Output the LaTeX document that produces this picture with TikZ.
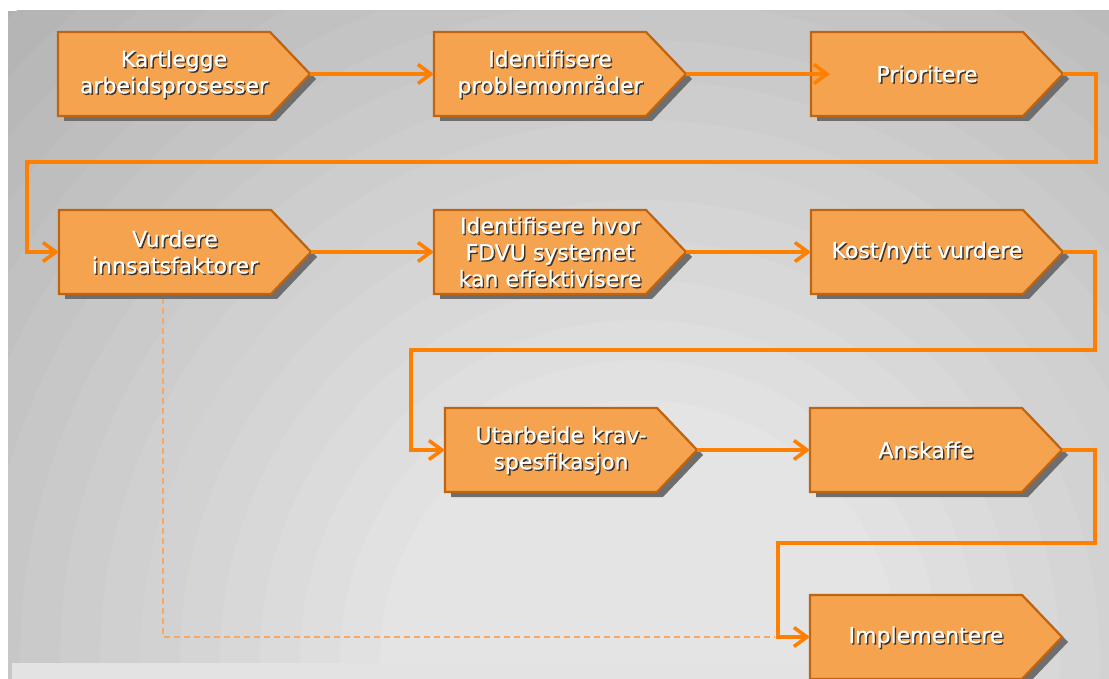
\documentclass[tikz,border=0pt]{standalone}
\usepackage{fontspec}
\setmainfont{DejaVu Sans}
\newfontfamily\steplabelfont[FakeBold=0.6]{DejaVu Sans}
\usetikzlibrary{arrows.meta}

\definecolor{boxfill}{RGB}{246,163,80}
\definecolor{boxline}{RGB}{192,100,16}
\definecolor{flow}{RGB}{255,128,0}
\definecolor{flowlight}{RGB}{246,168,100}
\definecolor{shadowgray}{RGB}{110,110,110}
\definecolor{txtshadow}{RGB}{60,50,40}

\tikzset{
  stepnode/.style={minimum width=252pt, minimum height=84pt, inner sep=0pt, outer sep=0pt},
  stepfill/.style={fill=boxfill, draw=boxline, line width=2.2pt, line join=miter},
  stepshadow/.style={fill=shadowgray},
  lbl/.style={text=white, align=center, font=\steplabelfont\fontsize{22}{26.5}\selectfont, inner sep=0pt},
  lblsh/.style={lbl, text=txtshadow},
  conn/.style={draw=flow, line width=3.6pt, -{Straight Barb[length=13pt,width=19pt]}},
  dashconn/.style={draw=flowlight, line width=2.2pt, dash pattern=on 6pt off 4pt},
}

% arrow-shaped process box with its drop shadow, built on a named node
\newcommand\stepshape[1]{%
  \fill[stepshadow, transform canvas={shift={(6pt,-5pt)}}]
    (#1.north west) -- ([xshift=-40pt]#1.north east) -- (#1.east)
    -- ([xshift=-40pt]#1.south east) -- (#1.south west) -- cycle;
  \filldraw[stepfill]
    (#1.north west) -- ([xshift=-40pt]#1.north east) -- (#1.east)
    -- ([xshift=-40pt]#1.south east) -- (#1.south west) -- cycle;
}

% label with a small dark offset copy underneath
\newcommand\steplabel[3]{%
  \node[lblsh, xshift=1.4pt, yshift=-1.4pt] (#2s) at ([xshift=-10pt]#1.center) {#3};
  \node[lbl] (#2) at ([xshift=-10pt]#1.center) {#3};
}

\begin{document}
\begin{tikzpicture}[x=1pt, y=-1pt]
  \useasboundingbox (0,0) rectangle (1109,679);
  \fill[white] (0,0) rectangle (1109,679);

  % banded radial background
  \begin{scope}
    \clip (8,11) rectangle (1109,679);
    \fill[white!70!black] (8,11) rectangle (1109,679);
    \foreach \k in {0,...,16} {
      \pgfmathsetmacro\r{900-\k*40}
      \pgfmathsetmacro\g{71+\k*1.15}
      \fill[white!\g!black] (640,660) circle[radius=\r pt];
    }
    \fill[white!89!black] (12,663) rectangle (810,679);
  \end{scope}

  % process boxes
  \node[stepnode] (b1) at (184,74) {};
  \node[stepnode] (b2) at (560,74) {};
  \node[stepnode] (b3) at (937,74) {};
  \node[stepnode] (b4) at (185,252) {};
  \node[stepnode] (b5) at (560,252) {};
  \node[stepnode] (b6) at (937,252) {};
  \node[stepnode] (b7) at (571,450) {};
  \node[stepnode] (b8) at (936,450) {};
  \node[stepnode] (b9) at (936,637) {};

  % dashed shortcut from the input assessment to implementation
  \draw[dashconn] ([xshift=-22pt,yshift=-4pt]b4.south) |- ([xshift=-35pt]b9.west);

  \stepshape{b1}\stepshape{b2}\stepshape{b3}
  \stepshape{b4}\stepshape{b5}\stepshape{b6}
  \stepshape{b7}\stepshape{b8}\stepshape{b9}

  % flow connectors
  \draw[conn] (b1.east) -- (b2.west);
  \draw[conn, shorten >=-19pt] (b2.east) -- (b3.west);
  \draw[conn] (b3.east) -- ++(33,0) -- ++(0,88) -| ([xshift=-32pt]b4.west) -- (b4.west);
  \draw[conn] (b4.east) -- (b5.west);
  \draw[conn] (b5.east) -- (b6.west);
  \draw[conn] (b6.east) -- ++(32,0) -- ++(0,98) -| ([xshift=-34pt]b7.west) -- (b7.west);
  \draw[conn] (b7.east) -- (b8.west);
  \draw[conn] (b8.east) -- ++(33,0) -- ++(0,93) -| ([xshift=-32pt]b9.west) -- (b9.west);

  % labels
  \steplabel{b1}{t1}{Kartlegge\\arbeidsprosesser}
  \steplabel{b2}{t2}{Identifisere\\problemområder}
  \steplabel{b3}{t3}{Prioritere}
  \steplabel{b4}{t4}{Vurdere\\innsatsfaktorer}
  \steplabel{b5}{t5}{Identifisere hvor\\FDVU systemet\\kan effektivisere}
  \steplabel{b6}{t6}{Kost/nytt vurdere}
  \steplabel{b7}{t7}{Utarbeide krav-\\spesfikasjon}
  \steplabel{b8}{t8}{Anskaffe}
  \steplabel{b9}{t9}{Implementere}
\end{tikzpicture}
\end{document}
